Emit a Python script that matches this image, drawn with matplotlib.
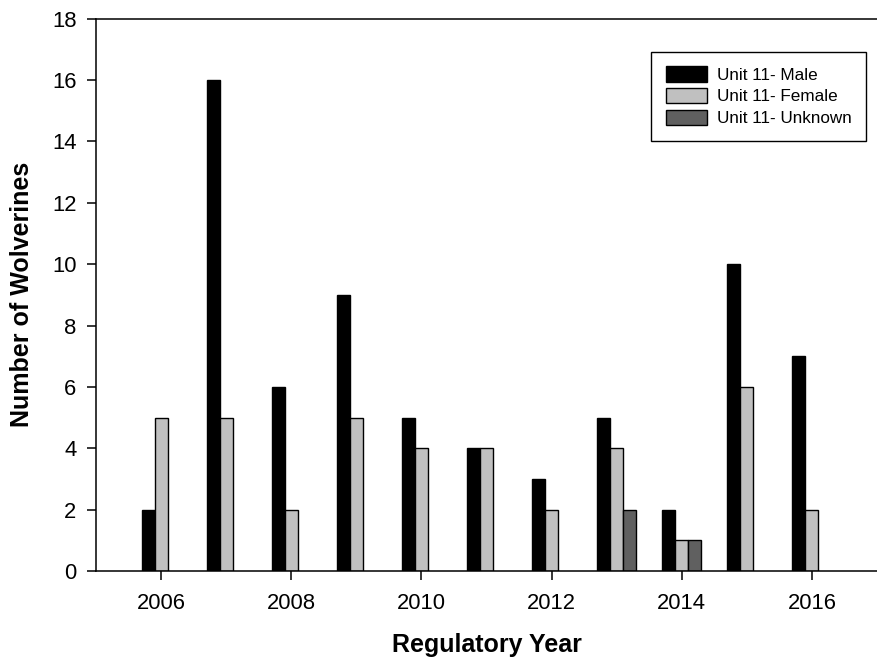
import matplotlib
matplotlib.use("Agg")
import matplotlib.pyplot as plt
import numpy as np

plt.rcParams['font.family'] = ['Liberation Sans', 'DejaVu Sans']

### data
years   = np.array([2006, 2007, 2008, 2009, 2010, 2011, 2012, 2013, 2014, 2015, 2016])
male    = np.array([2, 16, 6, 9, 5, 4, 3, 5, 2, 10, 7])
female  = np.array([5, 5, 2, 5, 4, 4, 2, 4, 1, 6, 2])
unknown = np.array([0, 0, 0, 0, 0, 0, 0, 2, 1, 0, 0])

labels = ["Unit 11- Male", "Unit 11- Female", "Unit 11- Unknown"]
colors = ["#000000", "#c0c0c0", "#606060"]

fig = plt.figure(figsize=(8.77, 6.62), dpi=100)
ax = fig.add_axes([0.1095, 0.1375, 0.8905, 0.8343])

w = 0.2
series = [male, female, unknown]
for k, (vals, lab, col) in enumerate(zip(series, labels, colors)):
    m = vals > 0   # zero bars are not drawn
    ax.bar(years[m] + (k - 1) * w, vals[m], width=w, color=col,
           edgecolor="black", linewidth=1.0, label=lab)

ax.set_xlim(2005, 2017)
ax.set_ylim(0, 18)
ax.set_xticks(np.arange(2006, 2017, 2))
ax.set_yticks(np.arange(0, 19, 2))

ax.spines['right'].set_visible(False)
for s in ['left', 'bottom', 'top']:
    ax.spines[s].set_linewidth(1.1)
ax.tick_params(direction='out', length=6.5, width=1.1, labelsize=15.8)
ax.tick_params(axis='x', pad=9)
ax.tick_params(axis='y', pad=7.5)

ax.set_xlabel("Regulatory Year", fontsize=18, fontweight='bold', labelpad=14)
ax.set_ylabel("Number of Wolverines", fontsize=18, fontweight='bold', labelpad=13)

leg = ax.legend(loc='upper right', bbox_to_anchor=(0.986, 0.94), fontsize=12.3,
                fancybox=False, edgecolor='black', framealpha=1,
                handlelength=2.4, handleheight=1.0, labelspacing=0.3,
                borderpad=0.85, handletextpad=0.6, borderaxespad=0)
leg.get_frame().set_linewidth(1.0)

fig.savefig("out.png", dpi=100)
